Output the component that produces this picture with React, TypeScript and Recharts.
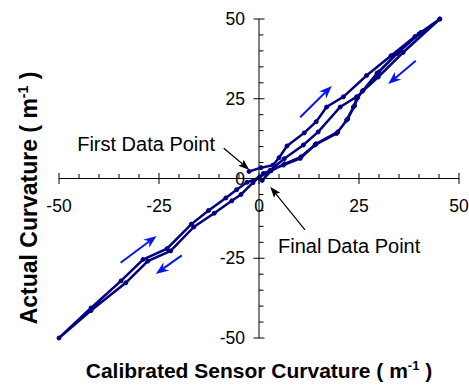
import React from 'react'
import { LineChart, Line, XAxis, YAxis, ReferenceLine } from 'recharts'

// hysteresis loop, in the order the points were taken
// first loading branch (from the first data point up to the peak)
const load1X = [-2.5, 0.5, 3.5, 5.0, 7.0, 11.3, 14.3, 16.9, 21.1, 26.9, 33.0, 39.0, 45.2]
const load1Y = [2.2, 3.4, 4.2, 6.5, 10.2, 14.3, 17.8, 22.4, 25.6, 32.3, 38.5, 44.5, 50.0]
// first unloading branch (peak down to the negative end)
const unload1X = [40.0, 34.5, 29.5, 25.8, 24.4, 23.6, 21.9, 19.4, 14.0, 10.3, 6.1, 1.1, -1.5, -4.5, -6.8, -11.2, -16.3, -22.1, -27.8, -33.3, -42.0, -50.0]
const unload1Y = [45.3, 39.2, 33.0, 27.3, 25.0, 22.4, 18.3, 14.1, 10.5, 6.3, 4.2, 1.6, -1.3, -5.0, -7.0, -10.9, -15.2, -22.7, -25.9, -32.7, -41.4, -50.0]
// second loading branch (negative end back up to the peak)
const load2X = [-42.0, -34.5, -29.0, -23.0, -16.9, -12.6, -8.3, -5.6, -3.0, 0.0, 2.8, 6.3, 11.1, 14.8, 20.3, 24.4, 29.8, 36.0, 45.2]
const load2Y = [-40.6, -32.1, -25.4, -22.0, -14.3, -10.0, -6.1, -3.5, -1.2, 0.3, 2.6, 6.2, 10.5, 14.6, 22.4, 25.6, 31.8, 39.5, 50.0]
// second unloading branch (peak down to the final data point)
const unload2X = [40.5, 35.0, 30.0, 26.0, 24.7, 23.9, 22.2, 19.7, 14.3, 10.5, 6.4, 3.0, 0.8]
const unload2Y = [45.8, 39.8, 33.4, 27.6, 25.4, 22.8, 18.7, 14.6, 10.9, 6.8, 4.6, 2.4, -0.6]

const sensor = [...load1X, ...unload1X, ...load2X, ...unload2X]
const actual = [...load1Y, ...unload1Y, ...load2Y, ...unload2Y]
const data = sensor.map((x, i) => ({ x, y: actual[i] }))

const ticks = [-50, -45, -40, -35, -30, -25, -20, -15, -10, -5, 0, 5, 10, 15, 20, 25, 30, 35, 40, 45, 50]
const labelled = [-50, -25, 0, 25, 50]

// direction arrows (tail -> head, data units)
const blueTails = [[10.3, 19.2], [39.2, 36.9], [-34.6, -26.4], [-19.3, -24.1]]
const blueHeads = [[18.2, 29.0], [32.3, 29.6], [-25.6, -18.0], [-25.8, -29.9]]
// callout arrows for the first / final point
const noteTails = [[-8.8, 9.5], [11.5, -16.1]]
const noteHeads = [[-2.4, 2.7], [2.8, -2.6]]

const W = 469
const H = 388
const TOP = 19
const RIGHT = 10
const YAXIS_W = 59
const XAXIS_H = 50
const plotW = W - YAXIS_W - RIGHT
const plotH = H - TOP - XAXIS_H
const zeroX = YAXIS_W + plotW / 2
const zeroY = TOP + plotH / 2

const FONT = '"Liberation Sans", Arial, sans-serif'
const NAVY = '#000080'
const BLUE = '#0a14f0'

function XTick(props: any) {
  const { x, payload } = props
  const v = payload.value
  const major = labelled.includes(v)
  return (
    <g>
      <line x1={x} x2={x} y1={zeroY - (major ? 5.5 : 4.5)} y2={zeroY + (major ? 5.5 : 0)} stroke="#000" />
      {major && (
        <text x={x} y={zeroY + 33} textAnchor="middle" fontSize={17.5} fontFamily={FONT} fill="#000">{v}</text>
      )}
    </g>
  )
}

function YTick(props: any) {
  const { y, payload } = props
  const v = payload.value
  const major = labelled.includes(v)
  return (
    <g>
      <line x1={zeroX - (major ? 5.5 : 0)} x2={zeroX + (major ? 5.5 : 4.5)} y1={y} y2={y} stroke="#000" />
      {major && (
        <text x={zeroX - 14} y={y} dy="0.35em" textAnchor="end" fontSize={17.5} fontFamily={FONT} fill="#000">{v}</text>
      )}
    </g>
  )
}

function arrowShape(color: string, width: number, len: number, half: number, notch: number) {
  return (p: any) => {
    const { x1, y1, x2, y2 } = p
    const dx = x2 - x1
    const dy = y2 - y1
    const d = Math.hypot(dx, dy) || 1
    const ux = dx / d
    const uy = dy / d
    const bx = x2 - ux * len
    const by = y2 - uy * len
    const ix = x2 - ux * (len - notch)
    const iy = y2 - uy * (len - notch)
    const nx = -uy * half
    const ny = ux * half
    return (
      <g>
        <line x1={x1} y1={y1} x2={ix} y2={iy} stroke={color} strokeWidth={width} />
        <polygon points={`${x2},${y2} ${bx + nx},${by + ny} ${ix},${iy} ${bx - nx},${by - ny}`} fill={color} />
      </g>
    )
  }
}

const blueArrow = arrowShape(BLUE, 2, 13, 5, 4)
const blackArrow = arrowShape('#000', 1.2, 11, 4, 2)

export default function App() {
  return (
    <div style={{ position: 'absolute', left: 0, top: 0, width: W, height: H, background: '#fff' }}>
      <LineChart width={W} height={H} data={data} margin={{ top: TOP, right: RIGHT, left: 0, bottom: 0 }}>
        <XAxis
          dataKey="x" type="number" domain={[-50, 50]} ticks={ticks} interval={0}
          height={XAXIS_H} axisLine={false} tickLine={false} tick={<XTick />}
        />
        <YAxis
          type="number" domain={[-50, 50]} ticks={ticks} interval={0}
          width={YAXIS_W} axisLine={false} tickLine={false} tick={<YTick />}
        />
        <ReferenceLine y={0} stroke="#000" strokeWidth={1} />
        <ReferenceLine x={0} stroke="#000" strokeWidth={1} />
        {blueTails.map((t, i) => (
          <ReferenceLine key={'b' + i} segment={[{ x: t[0], y: t[1] }, { x: blueHeads[i][0], y: blueHeads[i][1] }]} shape={blueArrow} />
        ))}
        {noteTails.map((t, i) => (
          <ReferenceLine key={'n' + i} segment={[{ x: t[0], y: t[1] }, { x: noteHeads[i][0], y: noteHeads[i][1] }]} shape={blackArrow} />
        ))}
        <Line
          dataKey="y" stroke={NAVY} strokeWidth={2.5} isAnimationActive={false}
          dot={{ r: 2, fill: NAVY, stroke: NAVY, strokeWidth: 1 }} activeDot={false}
        />
      </LineChart>
      <svg width={W} height={H} style={{ position: 'absolute', left: 0, top: 0, pointerEvents: 'none' }}>
        <text x={215} y={151} textAnchor="end" fontSize={20} fontFamily={FONT} fill="#000">First Data Point</text>
        <text x={278} y={253} textAnchor="start" fontSize={20} fontFamily={FONT} fill="#000">Final Data Point</text>
        <text x={259} y={378} textAnchor="middle" fontSize={21} fontWeight="bold" fontFamily={FONT} fill="#000">
          Calibrated Sensor Curvature ( m<tspan dy={-8} fontSize={13}>-1</tspan><tspan dy={8}> )</tspan>
        </text>
        <text x={37} y={198} transform="rotate(-90 37 198)" textAnchor="middle" fontSize={23} fontWeight="bold" fontFamily={FONT} fill="#000">
          Actual Curvature ( m<tspan dy={-9} fontSize={14}>-1</tspan><tspan dy={9}> )</tspan>
        </text>
      </svg>
    </div>
  )
}
